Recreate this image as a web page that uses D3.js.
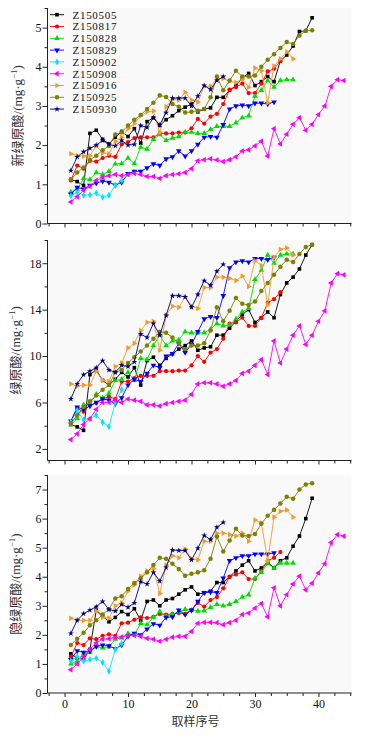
<!DOCTYPE html>
<html>
<head>
<meta charset="utf-8">
<title>CGA</title>
<script src="https://cdn.jsdelivr.net/npm/d3@7"></script>
<style>
  body { margin: 0; background: #fff; }
  svg text { font-family: "Liberation Serif", serif; fill: #111; }
</style>
</head>
<body>
<div id="chart"></div>
<script>
// series names (legend order)
const seriesNames = ["Z150505", "Z150817", "Z150828", "Z150829", "Z150902", "Z150908", "Z150916", "Z150925", "Z150930"];

// 新绿原酸 (panel 1), one array per series, sample no. 1..n
const neoValues = [
  [1.12,1.07,0.97,2.3,2.38,2.15,2.03,2.2,2.35,2.22,2.42,2.05,2.6,2.7,2.5,2.65,2.75,2.88,2.97,3.05,2.85,2.92,2.95,3.22,3.22,3.4,3.52,3.72,3.83,3.52,3.62,3.75,3.62,4.15,4.3,4.53,4.9,4.92,5.25],
  [1.1,1.48,1.4,1.6,1.58,1.67,1.73,1.7,2.02,2.08,2.18,2.2,2.2,2.2,2.3,2.3,2.3,2.32,2.32,2.43,2.67,2.55,2.73,2.8,3.05,3.42,3.48,3.57,3.33,3.33,3.57,3.88,3.95,4.15],
  [0.8,0.88,1.15,1.12,1.3,1.25,1.33,1.52,1.53,1.67,1.53,1.95,1.9,2.15,2.27,2.12,2.18,2.22,2.33,2.33,2.3,2.3,2.4,2.48,2.48,2.48,2.57,2.7,2.75,3.25,3.4,3.65,3.48,3.65,3.67,3.67],
  [0.75,0.92,0.88,0.97,1.03,1.08,1.05,0.98,1.05,1.27,1.33,1.33,1.42,1.52,1.48,1.65,1.7,1.85,1.72,1.85,2.02,2.2,2.22,2.2,2.52,2.92,3.0,3.02,3.0,3.07,3.07,3.05,3.1],
  [0.7,0.8,0.72,0.73,0.78,0.67,0.72,0.98,1.1],
  [0.55,0.68,0.85,0.95,1.1,1.18,1.22,1.25,1.22,1.25,1.28,1.25,1.2,1.2,1.15,1.22,1.25,1.27,1.3,1.4,1.6,1.63,1.65,1.62,1.58,1.63,1.7,1.85,1.88,1.98,2.1,1.72,2.42,2.03,2.28,2.53,2.7,2.38,2.53,2.78,3.0,3.5,3.67,3.65],
  [1.78,1.73,1.72,1.73,1.98,1.8,1.78,2.1,2.2,2.42,2.55,2.75,2.85,2.87,2.32,2.98,3.17,3.15,3.35,3.15,3.1,3.5,3.5,3.7,3.7,3.63,3.6,3.68,3.48,3.97,3.9,3.08,4.02,4.2,4.38,4.2],
  [1.13,1.3,1.43,1.62,1.73,1.87,1.98,2.27,2.33,2.5,2.65,2.77,2.92,3.08,3.27,3.23,3.05,2.98,2.83,2.85,2.88,2.92,3.22,3.75,3.4,3.65,3.9,3.75,3.75,3.78,4.0,4.18,4.32,4.48,4.63,4.58,4.8,4.92,4.93],
  [1.35,1.7,1.83,1.92,2.0,2.12,2.02,1.98,2.12,2.0,2.02,2.5,2.45,2.7,2.52,2.83,3.2,3.2,3.2,3.0,3.25,3.52,3.42,3.65,3.75]
];

// 绿原酸 (panel 2)
const cgaValues = [
  [4.1,3.9,3.6,8.4,8.8,7.9,7.5,8.0,8.6,8.2,9.0,7.5,9.6,9.9,9.2,9.8,10.2,10.6,10.9,11.3,10.5,10.7,10.8,11.8,11.8,12.4,13.0,13.6,14.0,12.9,13.3,13.8,13.3,15.3,16.3,16.8,17.5,18.7,19.6],
  [4.3,5.5,5.2,5.8,5.95,6.3,6.5,6.3,7.8,7.8,8.1,8.3,8.3,8.3,8.7,8.7,8.7,8.75,8.75,9.2,10.0,9.5,10.3,10.6,11.5,12.8,12.9,13.3,12.6,12.6,13.3,14.6,14.9,15.5],
  [4.1,4.6,5.8,5.9,6.7,6.4,6.8,7.9,8.0,8.6,7.9,9.8,9.7,10.9,11.8,10.9,11.3,11.4,12.1,12.0,12.0,12.0,12.3,12.8,12.6,12.7,13.2,13.8,14.1,16.6,17.4,18.7,18.0,18.7,18.8,18.8],
  [4.4,5.6,5.4,5.7,6.0,6.3,6.2,5.9,6.4,7.5,8.0,7.8,8.5,9.2,9.0,10.0,10.2,11.1,10.3,11.0,12.1,13.2,13.4,13.3,15.2,17.6,18.1,18.2,18.1,18.4,18.4,18.3,18.5],
  [4.3,5.3,4.5,4.6,4.9,4.3,3.9,6.0,7.1],
  [2.8,3.3,4.1,4.6,5.4,6.0,6.0,6.2,6.0,6.3,6.2,6.1,5.8,5.8,5.7,5.9,6.0,6.1,6.2,6.7,7.6,7.7,7.7,7.6,7.4,7.6,7.9,8.5,8.7,9.2,9.7,8.4,11.3,9.4,10.6,11.8,12.6,11.0,11.8,13.0,13.9,16.3,17.1,17.0],
  [7.6,7.4,7.5,7.5,8.7,7.9,7.8,9.1,9.4,10.7,11.1,12.2,12.9,13.0,10.5,13.5,14.3,14.2,15.1,14.3,14.1,15.9,15.9,16.8,16.8,16.7,16.5,16.9,16.0,18.2,17.8,14.4,18.5,19.2,19.3,18.7],
  [4.2,4.9,5.6,6.1,6.6,7.1,7.5,8.6,8.8,9.4,9.9,10.4,10.9,11.5,12.1,12.0,11.6,11.1,10.6,10.9,10.9,11.1,12.2,14.2,13.0,13.9,15.0,14.5,14.4,14.7,15.6,16.3,17.0,17.7,18.3,18.1,18.8,19.4,19.6],
  [6.3,7.6,8.4,8.7,9.0,9.6,8.8,8.6,9.2,9.1,9.5,11.9,11.6,12.8,11.8,13.5,15.2,15.2,15.1,14.2,15.3,16.5,16.1,17.3,17.9]
];

// 隐绿原酸 (panel 3)
const cryptoValues = [
  [1.35,1.2,1.15,1.5,2.85,2.65,2.45,2.6,2.8,2.7,2.9,2.5,3.15,3.2,3.0,3.2,3.25,3.4,3.55,3.65,3.4,3.45,3.5,3.8,3.8,4.0,4.2,4.4,4.55,4.2,4.3,4.5,4.3,4.55,4.65,5.05,5.4,6.0,6.7],
  [1.25,1.72,1.65,1.88,1.85,1.97,2.02,1.97,2.4,2.42,2.52,2.6,2.58,2.62,2.72,2.7,2.72,2.75,2.72,2.85,3.1,2.97,3.2,3.3,3.6,4.0,4.08,4.15,3.92,3.92,4.2,4.55,4.65,4.85],
  [1.0,1.1,1.35,1.4,1.6,1.55,1.6,1.85,1.9,2.05,2.0,2.4,2.35,2.6,2.8,2.65,2.7,2.8,2.88,2.85,2.82,2.83,2.95,3.05,3.0,3.05,3.15,3.3,3.38,3.95,4.15,4.45,4.3,4.47,4.47,4.47],
  [1.15,1.45,1.4,1.45,1.6,1.65,1.62,1.52,1.65,1.95,2.05,2.0,2.2,2.38,2.33,2.6,2.62,2.85,2.7,2.85,3.15,3.45,3.48,3.45,3.95,4.55,4.65,4.72,4.72,4.78,4.78,4.78,4.82],
  [1.1,1.25,1.1,1.15,1.2,1.05,0.75,1.5,1.7],
  [0.8,1.0,1.25,1.5,1.72,1.85,1.87,1.9,1.93,1.98,1.98,1.95,1.88,1.85,1.78,1.85,1.92,1.95,1.95,2.12,2.4,2.43,2.43,2.42,2.35,2.42,2.5,2.7,2.75,2.92,3.08,2.62,3.62,3.0,3.38,3.75,4.02,3.55,3.78,4.13,4.45,5.18,5.45,5.4],
  [2.57,2.5,2.5,2.5,2.82,2.6,2.57,3.0,3.1,3.5,3.72,4.02,4.2,4.28,3.42,4.4,4.72,4.65,4.95,4.62,4.58,5.22,5.22,5.5,5.5,5.45,5.4,5.5,5.22,5.95,5.85,4.55,6.05,6.25,6.3,6.05],
  [1.65,1.87,2.07,2.33,2.5,2.7,2.88,3.25,3.33,3.58,3.78,3.95,4.15,4.4,4.65,4.62,4.45,4.27,4.03,4.1,4.15,4.22,4.62,5.38,4.87,5.25,5.65,5.42,5.4,5.47,5.82,6.1,6.3,6.52,6.75,6.68,7.0,7.17,7.22],
  [2.05,2.5,2.73,2.85,2.97,3.15,2.87,2.82,3.05,2.95,3.1,3.83,3.75,4.15,3.85,4.32,4.92,4.9,4.9,4.58,4.98,5.42,5.28,5.7,5.87]
];

// axis ticks
const xTicks = [0, 10, 20, 30, 40];
const neoTicks = [0, 1, 2, 3, 4, 5];
const cgaTicks = [2, 6, 10, 14, 18];
const cryptoTicks = [0, 1, 2, 3, 4, 5, 6, 7];

const colors = ["#000000", "#ff0000", "#00dd00", "#0000ff", "#00e5ff", "#ff00ff", "#f39a2c", "#808000", "#000080"];
const symbols = [
  {t: d3.symbolSquare, r: 0, s: 13},
  {t: d3.symbolCircle, r: 0, s: 14},
  {t: d3.symbolTriangle, r: 0, s: 14},
  {t: d3.symbolTriangle, r: 180, s: 14},
  {t: d3.symbolDiamond, r: 0, s: 14},
  {t: d3.symbolTriangle, r: -90, s: 14},
  {t: d3.symbolTriangle, r: 90, s: 14},
  {t: d3.symbolCircle, r: 0, s: 16},
  {t: d3.symbolStar, r: 0, s: 11}
];

const W = 371, H = 738;
const svg = d3.select("#chart").append("svg").attr("width", W).attr("height", H);

const x = d3.scaleLinear().domain([-2.68, 45.2]).range([47.5, 351.5]);

const panels = [
  {values: neoValues, domain: [0, 5.5], range: [223.5, 8], ticks: neoTicks, minor: d3.range(0, 5.51, 0.5), label: "新绿原酸", lx: 22, legend: true},
  {values: cgaValues, domain: [1, 20], range: [460.5, 240], ticks: cgaTicks, minor: d3.range(2, 20.1, 2), label: "绿原酸", lx: 20, legend: false},
  {values: cryptoValues, domain: [0, 7.5], range: [693, 475], ticks: cryptoTicks, minor: d3.range(0, 7.51, 0.5), label: "隐绿原酸", lx: 20, legend: false}
];

panels.forEach((p, pi) => {
  const y = d3.scaleLinear().domain(p.domain).range(p.range);
  const g = svg.append("g");

  g.append("rect")
    .attr("x", x.range()[0]).attr("y", p.range[1])
    .attr("width", x.range()[1] - x.range()[0]).attr("height", p.range[0] - p.range[1])
    .attr("fill", "#f9f9f9");

  // x axis: minor ticks every 2.5
  const xAxis = d3.axisBottom(x).tickValues(d3.range(-2.5, 45.1, 2.5)).tickSize(3)
    .tickFormat(d => (pi === 2 && xTicks.includes(d)) ? d : "");
  const gx = g.append("g").attr("transform", "translate(0," + p.range[0] + ")").call(xAxis);
  gx.select(".domain").attr("d", "M" + x.range()[0] + ",0H" + x.range()[1]).attr("stroke", "#222");
  gx.selectAll(".tick line").attr("stroke", "#222").attr("y2", d => xTicks.includes(d) ? 4 : 3);
  gx.selectAll(".tick text").attr("font-size", 12).attr("y", 6);

  const yAxis = d3.axisLeft(y).tickValues(d3.union(p.ticks, p.minor)).tickSize(3)
    .tickFormat(d => p.ticks.includes(d) ? d : "");
  const gy = g.append("g").attr("transform", "translate(" + x.range()[0] + ",0)").call(yAxis);
  gy.select(".domain").attr("d", "M0," + p.range[0] + "V" + p.range[1]).attr("stroke", "#222");
  gy.selectAll(".tick line").attr("stroke", "#222").attr("x2", d => p.ticks.includes(d) ? -5 : -3);
  gy.selectAll(".tick text").attr("font-size", 12).attr("x", -6);

  const cy = (p.range[0] + p.range[1]) / 2;
  const lab = g.append("text")
    .attr("transform", "translate(" + p.lx + "," + cy + ") rotate(-90)")
    .attr("text-anchor", "middle").attr("font-size", 13).style("fill", "#333");
  lab.append("tspan").style("font-family", "'Noto Sans CJK SC', sans-serif").text(p.label);
  lab.append("tspan").text("/(mg·g");
  lab.append("tspan").attr("font-size", 9).attr("dy", -5).text("−1");
  lab.append("tspan").attr("dy", 5).text(")");

  const line = d3.line().x((d, i) => x(i + 1)).y(d => y(d));
  p.values.forEach((vals, si) => {
    const sg = g.append("g");
    sg.append("path").attr("d", line(vals)).attr("fill", "none")
      .attr("stroke", colors[si]).attr("stroke-width", 0.9);
    sg.selectAll("path.m").data(vals).enter().append("path")
      .attr("class", "m")
      .attr("d", d3.symbol().type(symbols[si].t).size(symbols[si].s))
      .attr("transform", (d, i) => "translate(" + x(i + 1) + "," + y(d) + ") rotate(" + symbols[si].r + ")")
      .attr("fill", colors[si]);
  });

  if (p.legend) {
    const lg = g.append("g");
    seriesNames.forEach((name, si) => {
      const ly = 14.7 + si * 11.8;
      lg.append("line").attr("x1", 50).attr("x2", 64).attr("y1", ly).attr("y2", ly)
        .attr("stroke", colors[si]).attr("stroke-width", 0.9);
      lg.append("path")
        .attr("d", d3.symbol().type(symbols[si].t).size(symbols[si].s))
        .attr("transform", "translate(57," + ly + ") rotate(" + symbols[si].r + ")")
        .attr("fill", colors[si]);
      lg.append("text").attr("x", 72.5).attr("y", ly).attr("dy", "0.35em")
        .attr("font-size", 11).attr("textLength", 44).text(name);
    });
  }
});

svg.append("text").attr("x", 195.5).attr("y", 726).attr("text-anchor", "middle")
  .attr("font-size", 12).style("fill", "#333")
  .style("font-family", "'Noto Sans CJK SC', sans-serif").text("取样序号");
</script>
</body>
</html>
